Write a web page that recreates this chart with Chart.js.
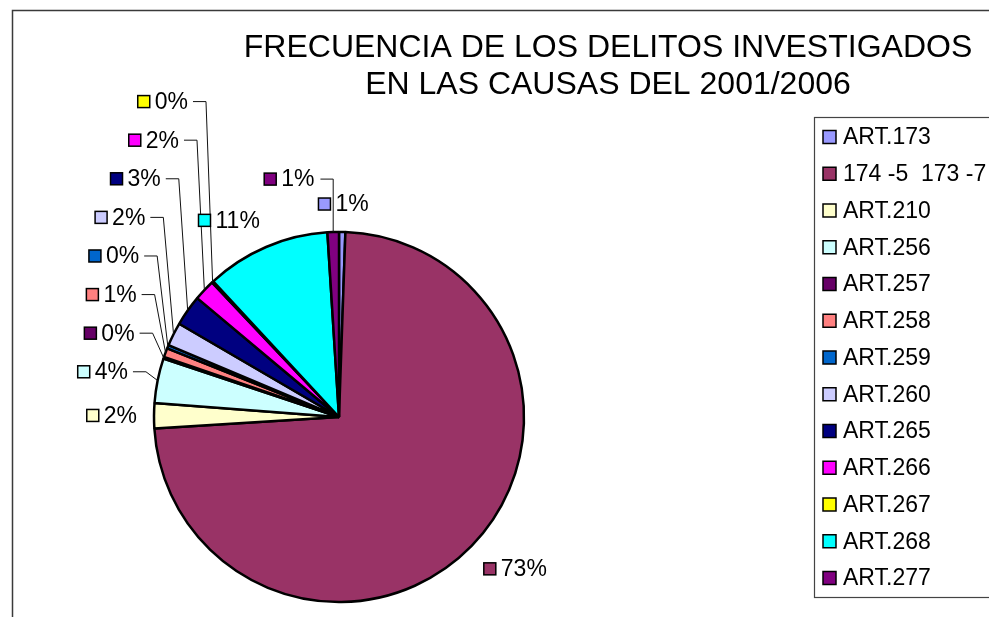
<!DOCTYPE html>
<html><head><meta charset="utf-8">
<script src="https://cdn.jsdelivr.net/npm/chart.js@4"></script>
<style>html,body{margin:0;padding:0;background:#fff}canvas{display:block}</style>
</head><body>
<canvas id="c" width="989" height="617"></canvas>
<script>
const titleLines = ['FRECUENCIA DE LOS DELITOS INVESTIGADOS', 'EN LAS CAUSAS DEL 2001/2006'];
const categories = ['ART.173', '174 -5  173 -7', 'ART.210', 'ART.256', 'ART.257', 'ART.258', 'ART.259',
                    'ART.260', 'ART.265', 'ART.266', 'ART.267', 'ART.268', 'ART.277'];
const shares = [0.55, 73.48, 2.2, 3.9, 0.15, 0.8, 0.3, 2.05, 2.7, 1.85, 0.15, 10.9, 1.0];
const sliceColors = ['#9999FF', '#993366', '#FFFFCC', '#CCFFFF', '#660066', '#FF8080', '#0066CC',
                     '#CCCCFF', '#000080', '#FF00FF', '#FFFF00', '#00FFFF', '#800080'];

const FONT = '"Liberation Sans", Arial, Helvetica, sans-serif';

const framePlugin = {
  id: 'frame',
  beforeDraw(chart) {
    const ctx = chart.ctx;
    ctx.save();
    ctx.fillStyle = '#fff';
    ctx.fillRect(0, 0, chart.width, chart.height);
    ctx.strokeStyle = '#3a3a3a';
    ctx.lineWidth = 1.5;
    ctx.strokeRect(12.5, 10.5, chart.width + 40, chart.height + 40);
    ctx.restore();
  }
};

const titlePlugin = {
  id: 'titleText',
  afterDraw(chart) {
    const ctx = chart.ctx;
    ctx.save();
    ctx.font = '32px ' + FONT;
    ctx.fillStyle = '#000';
    ctx.textAlign = 'center';
    ctx.textBaseline = 'alphabetic';
    titleLines.forEach((t, k) => ctx.fillText(t, 608, 57 + k * 37));
    ctx.restore();
  }
};

const legendPlugin = {
  id: 'sideLegend',
  afterDraw(chart) {
    const ctx = chart.ctx;
    ctx.save();
    ctx.strokeStyle = '#444';
    ctx.lineWidth = 1.2;
    ctx.strokeRect(814.5, 117.5, 400, 480);
    ctx.font = '23px ' + FONT;
    ctx.textBaseline = 'middle';
    ctx.textAlign = 'left';
    const SQ = 13;
    categories.forEach((c, i) => {
      const y = 137 + i * 36.75;
      ctx.fillStyle = sliceColors[i];
      ctx.fillRect(823, y - SQ / 2, SQ, SQ);
      ctx.strokeStyle = '#000';
      ctx.lineWidth = 1.5;
      ctx.strokeRect(823, y - SQ / 2, SQ, SQ);
      ctx.fillStyle = '#000';
      ctx.fillText(c, 843, y + 1);
    });
    ctx.restore();
  }
};

const labelPlugin = {
  id: 'pieLabels',
  afterDatasetsDraw(chart) {
    const ctx = chart.ctx;
    const meta = chart.getDatasetMeta(0);
    const total = shares.reduce((a, b) => a + b, 0);
    ctx.save();
    ctx.font = '23px ' + FONT;
    const SQ = 12, GAP = 5, H = 22, ROW = 38.6, NEAR = 7, PUSH = 13, PUSHV = 25, PAD = 4, LEAD = 13;
    const clamp = v => Math.max(-1, Math.min(1, v));
    const items = meta.data.map((arc, i) => {
      const p = arc.getProps(['x', 'y', 'startAngle', 'endAngle', 'outerRadius'], true);
      const mid = (p.startAngle + p.endAngle) / 2;
      const dx = Math.cos(mid), dy = Math.sin(mid);
      const R = p.outerRadius + 17;
      const px = p.x + R * dx, py = p.y + R * dy;
      const text = Math.round(shares[i] / total * 100) + '%';
      const w = SQ + GAP + ctx.measureText(text).width;
      return {
        i, text, w, dx, dy,
        x: px + w / 2 * clamp(2.5 * dx),
        y: py + H / 2 * clamp(2.5 * dy),
        ax: p.x + p.outerRadius * dx, ay: p.y + p.outerRadius * dy,
        moved: false, vertical: Math.abs(dy) > Math.abs(dx) * 2
      };
    });
    const xOverlap = (a, b) => Math.abs(a.x - b.x) < (a.w + b.w) / 2 + PAD;
    const hits = (a, b) => xOverlap(a, b) && Math.abs(a.y - b.y) < H;
    const order = items.filter(o => o.dx >= 0)
      .concat(items.filter(o => o.dx < 0).sort((a, b) => b.y - a.y));
    const placed = [];
    for (const o of order) {
      if (o.vertical) {
        let guard = 0, hit;
        while ((hit = placed.find(p => hits(o, p))) && guard++ < 60) {
          o.moved = true;
          const s = Math.sign(o.dx) || -1;
          o.x = hit.x + s * ((o.w + hit.w) / 2 + PAD);
        }
        if (o.moved) o.y += (o.dy < 0 ? -1 : 1) * PUSHV;
      } else if (o.dx < 0) {
        // stack side labels upward, keeping their order along the rim
        const below = placed.filter(p => !p.vertical && p.dx < 0 && xOverlap(o, p));
        if (below.length) {
          const limit = Math.min(...below.map(p => p.y)) - ROW;
          if (o.y > limit - NEAR) { o.y = Math.min(o.y, limit); o.moved = true; }
        }
        if (o.moved) o.x -= PUSH;
      }
      placed.push(o);
    }
    // leader lines
    ctx.strokeStyle = '#111';
    ctx.lineWidth = 1;
    for (const o of items) {
      if (!o.moved) continue;
      ctx.beginPath();
      if (o.vertical) {
        const sx = o.x < o.ax ? o.x + o.w / 2 + 6 : o.x - o.w / 2 - 6;
        ctx.moveTo(sx, o.y);
        ctx.lineTo(o.ax, o.y);
        ctx.lineTo(o.ax, o.ay);
      } else {
        const s = o.dx < 0 ? 1 : -1;
        const sx = o.x + s * (o.w / 2 + 5);
        ctx.moveTo(sx, o.y);
        ctx.lineTo(sx + s * LEAD, o.y);
        ctx.lineTo(o.ax, o.ay);
      }
      ctx.stroke();
    }
    // labels
    ctx.textBaseline = 'middle';
    ctx.textAlign = 'left';
    for (const o of items) {
      const left = o.x - o.w / 2;
      ctx.fillStyle = sliceColors[o.i];
      ctx.fillRect(left, o.y - SQ / 2, SQ, SQ);
      ctx.strokeStyle = '#000';
      ctx.lineWidth = 1.5;
      ctx.strokeRect(left, o.y - SQ / 2, SQ, SQ);
      ctx.fillStyle = '#000';
      ctx.fillText(o.text, left + SQ + GAP, o.y + 1);
    }
    ctx.restore();
  }
};

new Chart(document.getElementById('c'), {
  type: 'pie',
  data: {
    labels: categories,
    datasets: [{
      data: shares,
      backgroundColor: sliceColors,
      borderColor: '#000',
      borderWidth: 2.5
    }]
  },
  options: {
    responsive: false,
    animation: false,
    radius: 185,
    layout: { padding: { left: 139, top: 217, right: 450, bottom: 0 } },
    plugins: {
      legend: { display: false },
      title: { display: false },
      tooltip: { enabled: false }
    }
  },
  plugins: [framePlugin, labelPlugin, titlePlugin, legendPlugin]
});
</script>
</body></html>
